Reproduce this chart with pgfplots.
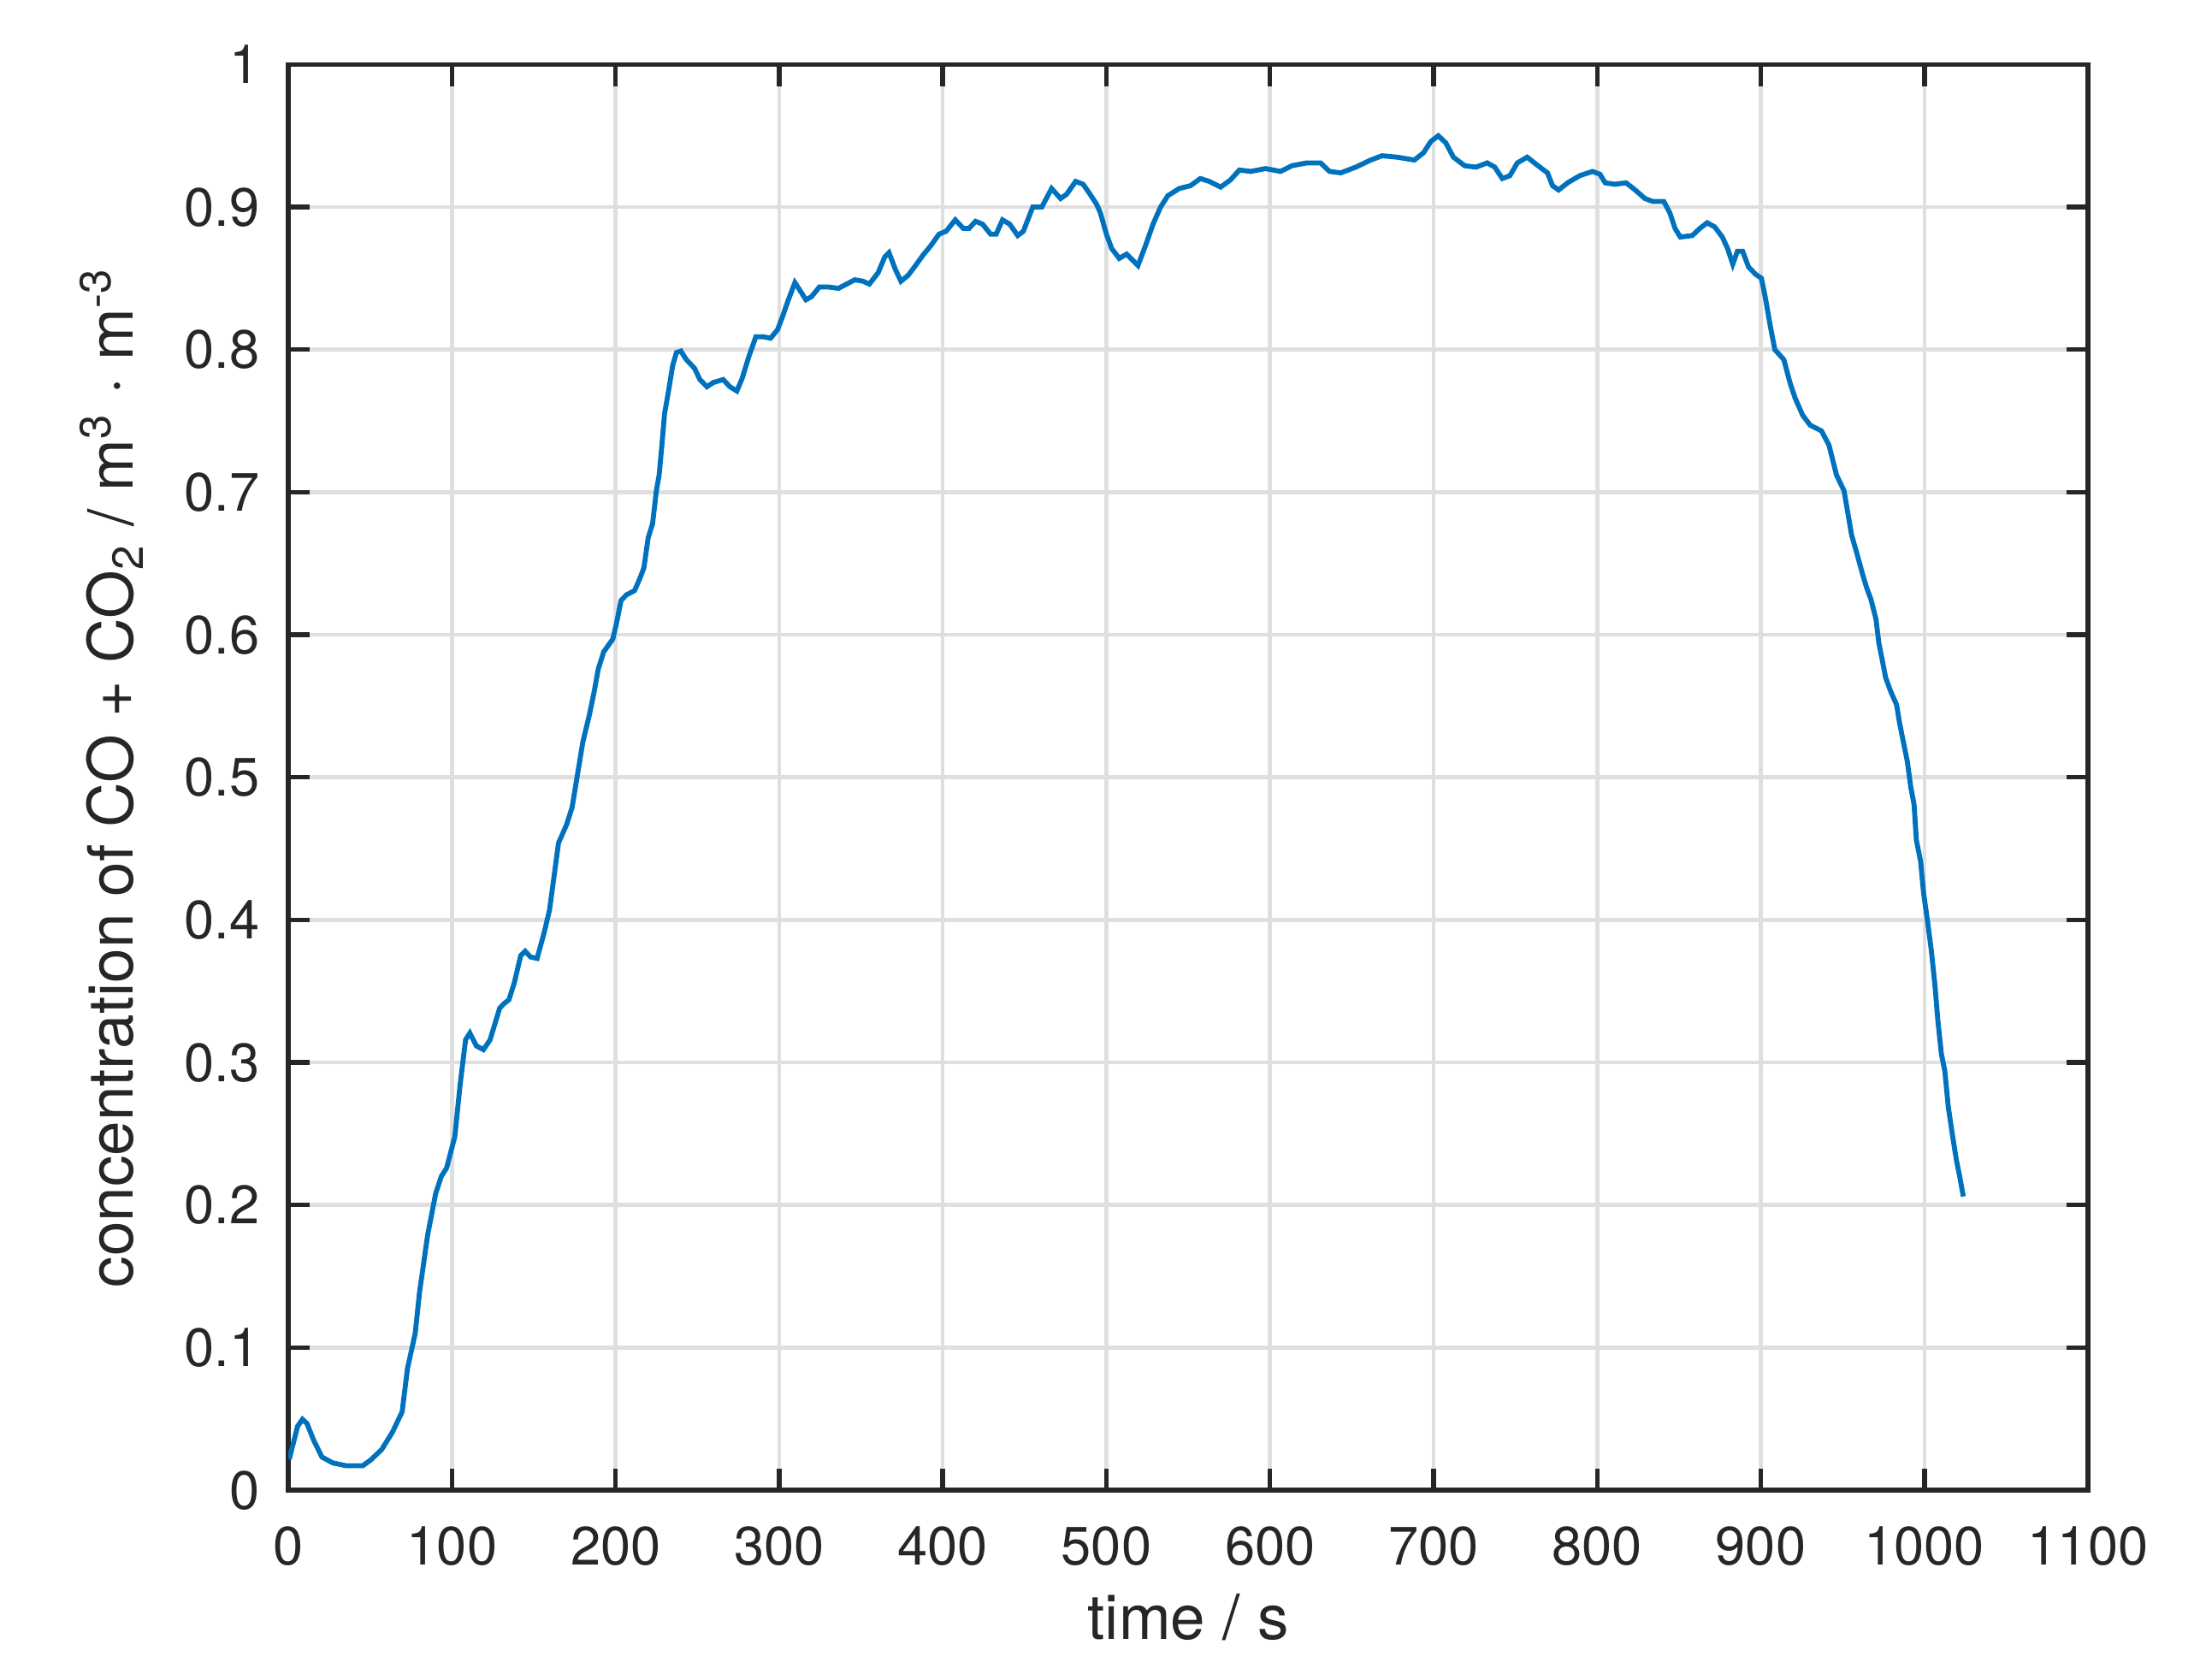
\documentclass[border=0pt]{standalone}
\usepackage{fontspec}
\setmainfont{TeX Gyre Heros}
\usepackage{pgfplots}
\pgfplotsset{compat=1.18}
\definecolor{axgray}{HTML}{262626}
\definecolor{gridgray}{HTML}{DFDFDF}
\definecolor{mblue}{HTML}{0072BD}

\begin{document}
\begin{tikzpicture}
\begin{axis}[
  scale only axis, width=326.3pt, height=258.5pt,
  xmin=0, xmax=1100, ymin=0, ymax=1,
  xtick={0,100,...,1100}, ytick={0,0.1,...,1},
  /pgf/number format/1000 sep={},
  /pgf/number format/assume math mode=true,
  grid=major,
  major grid style={gridgray, line width=0.7pt},
  axis line style={axgray, line width=0.85pt},
  major tick length=3.9pt,
  tick style={axgray, line width=0.85pt},
  ticklabel style={font=\fontsize{9.8}{11}\selectfont, text=axgray},
  xticklabel style={anchor=base, inner sep=0pt, yshift=-13.6pt},
  yticklabel style={anchor=east, inner sep=0pt, xshift=-5pt},
  label style={font=\fontsize{11.3}{13}\selectfont, text=axgray},
  xlabel={time / s},
  xlabel style={at={(axis description cs:0.5,-0.1049)}, anchor=base},
  ylabel={concentration of CO + CO\textsubscript{2} / m\textsuperscript{3} · m\textsuperscript{-3}},
  ylabel style={at={(axis description cs:-0.0864,0.5)}, anchor=base},
]
\addplot[mblue, line width=0.9pt] table {
x y
0.5 0.0217
5.6 0.0448
8.6 0.0497
11.3 0.0468
15.6 0.0346
20.5 0.0232
27.2 0.0191
35.4 0.0171
45.4 0.0171
50.3 0.0212
57.0 0.0285
63.6 0.0407
69.5 0.0550
72.8 0.0855
77.5 0.1100
80.1 0.1385
85.1 0.1790
90.0 0.2080
93.4 0.2200
96.7 0.2260
101.7 0.2480
105.0 0.2850
108.3 0.3160
110.9 0.3206
114.9 0.3116
119.2 0.3090
123.2 0.3157
129.1 0.3380
131.5 0.3410
134.8 0.3440
138.1 0.3560
142.0 0.3750
144.7 0.3780
148.0 0.3740
152.0 0.3730
156.3 0.3910
159.6 0.4070
162.3 0.4300
165.1 0.4540
170.1 0.4670
173.4 0.4790
176.7 0.5020
180.0 0.5250
184.0 0.5440
186.7 0.5590
189.4 0.5760
192.7 0.5880
198.3 0.5970
200.7 0.6090
203.3 0.6240
206.6 0.6280
211.6 0.6310
215.0 0.6400
217.3 0.6470
219.9 0.6680
222.6 0.6780
224.9 0.7010
226.6 0.7120
228.2 0.7320
229.9 0.7550
232.2 0.7700
234.9 0.7890
237.2 0.7980
239.9 0.7990
243.2 0.7930
248.2 0.7870
251.5 0.7790
255.8 0.7740
259.8 0.7770
265.8 0.7790
269.8 0.7740
274.1 0.7710
277.4 0.7800
281.4 0.7950
285.7 0.8090
290.4 0.8090
294.7 0.8080
299.0 0.8140
302.3 0.8240
305.6 0.8350
309.6 0.8470
313.0 0.8410
316.3 0.8350
319.6 0.8370
324.6 0.8440
329.6 0.8440
336.2 0.8430
341.2 0.8460
346.2 0.8490
351.2 0.8480
355.1 0.8460
360.5 0.8540
364.5 0.8650
367.1 0.8680
371.1 0.8560
374.4 0.8480
378.7 0.8520
382.7 0.8580
387.7 0.8660
392.7 0.8730
397.7 0.8810
402.0 0.8830
407.6 0.8910
412.6 0.8850
416.0 0.8850
420.0 0.8900
424.3 0.8880
429.2 0.8810
432.6 0.8810
436.5 0.8910
440.9 0.8880
445.8 0.8800
449.2 0.8830
455.0 0.9000
460.5 0.9000
466.5 0.9130
472.0 0.9060
475.7 0.9090
481.2 0.9180
485.8 0.9160
489.4 0.9100
494.0 0.9020
496.3 0.8960
500.0 0.8810
503.2 0.8710
507.8 0.8640
512.4 0.8670
519.3 0.8590
523.9 0.8730
528.5 0.8880
533.1 0.9000
537.6 0.9080
544.5 0.9130
551.4 0.9150
557.4 0.9200
562.9 0.9180
569.8 0.9140
575.8 0.9190
581.3 0.9260
588.2 0.9250
597.3 0.9270
606.5 0.9250
613.4 0.9290
622.6 0.9310
630.9 0.9310
636.4 0.9250
643.3 0.9240
652.4 0.9280
661.6 0.9330
668.5 0.9360
677.7 0.9350
688.2 0.9330
693.8 0.9380
698.3 0.9460
702.9 0.9500
707.5 0.9450
712.1 0.9350
719.0 0.9290
725.9 0.9280
732.8 0.9310
737.4 0.9280
742.0 0.9200
746.6 0.9220
751.2 0.9310
757.2 0.9350
762.7 0.9300
769.6 0.9240
772.7 0.9150
776.4 0.9120
781.9 0.9170
789.3 0.9220
797.1 0.9250
801.7 0.9230
804.9 0.9170
810.8 0.9160
817.7 0.9170
823.2 0.9120
829.2 0.9060
833.8 0.9040
840.7 0.9040
844.4 0.8960
847.6 0.8850
850.8 0.8790
858.1 0.8800
862.7 0.8850
867.3 0.8890
871.9 0.8860
876.5 0.8790
879.7 0.8710
882.9 0.8600
885.7 0.8690
888.9 0.8690
892.5 0.8580
896.7 0.8530
900.4 0.8500
902.7 0.8370
905.9 0.8160
908.6 0.8000
914.1 0.7930
917.8 0.7770
921.0 0.7660
925.6 0.7540
930.2 0.7470
937.1 0.7430
941.7 0.7330
946.3 0.7120
950.9 0.7010
955.5 0.6700
959.0 0.6560
962.1 0.6430
964.7 0.6330
967.3 0.6250
970.4 0.6110
972.2 0.5940
974.3 0.5820
976.3 0.5700
979.5 0.5600
983.0 0.5510
984.7 0.5390
987.3 0.5240
989.6 0.5110
991.7 0.4930
993.7 0.4810
995.1 0.4560
997.7 0.4410
999.5 0.4190
1001.7 0.4010
1004.2 0.3790
1006.4 0.3550
1008.2 0.3300
1010.4 0.3060
1012.5 0.2940
1014.6 0.2690
1016.9 0.2510
1019.5 0.2320
1021.6 0.2200
1023.8 0.2060
};
\end{axis}
\useasboundingbox (-52.3pt,-34.4pt) rectangle (347.7pt,270.2pt);
\end{tikzpicture}
\end{document}
